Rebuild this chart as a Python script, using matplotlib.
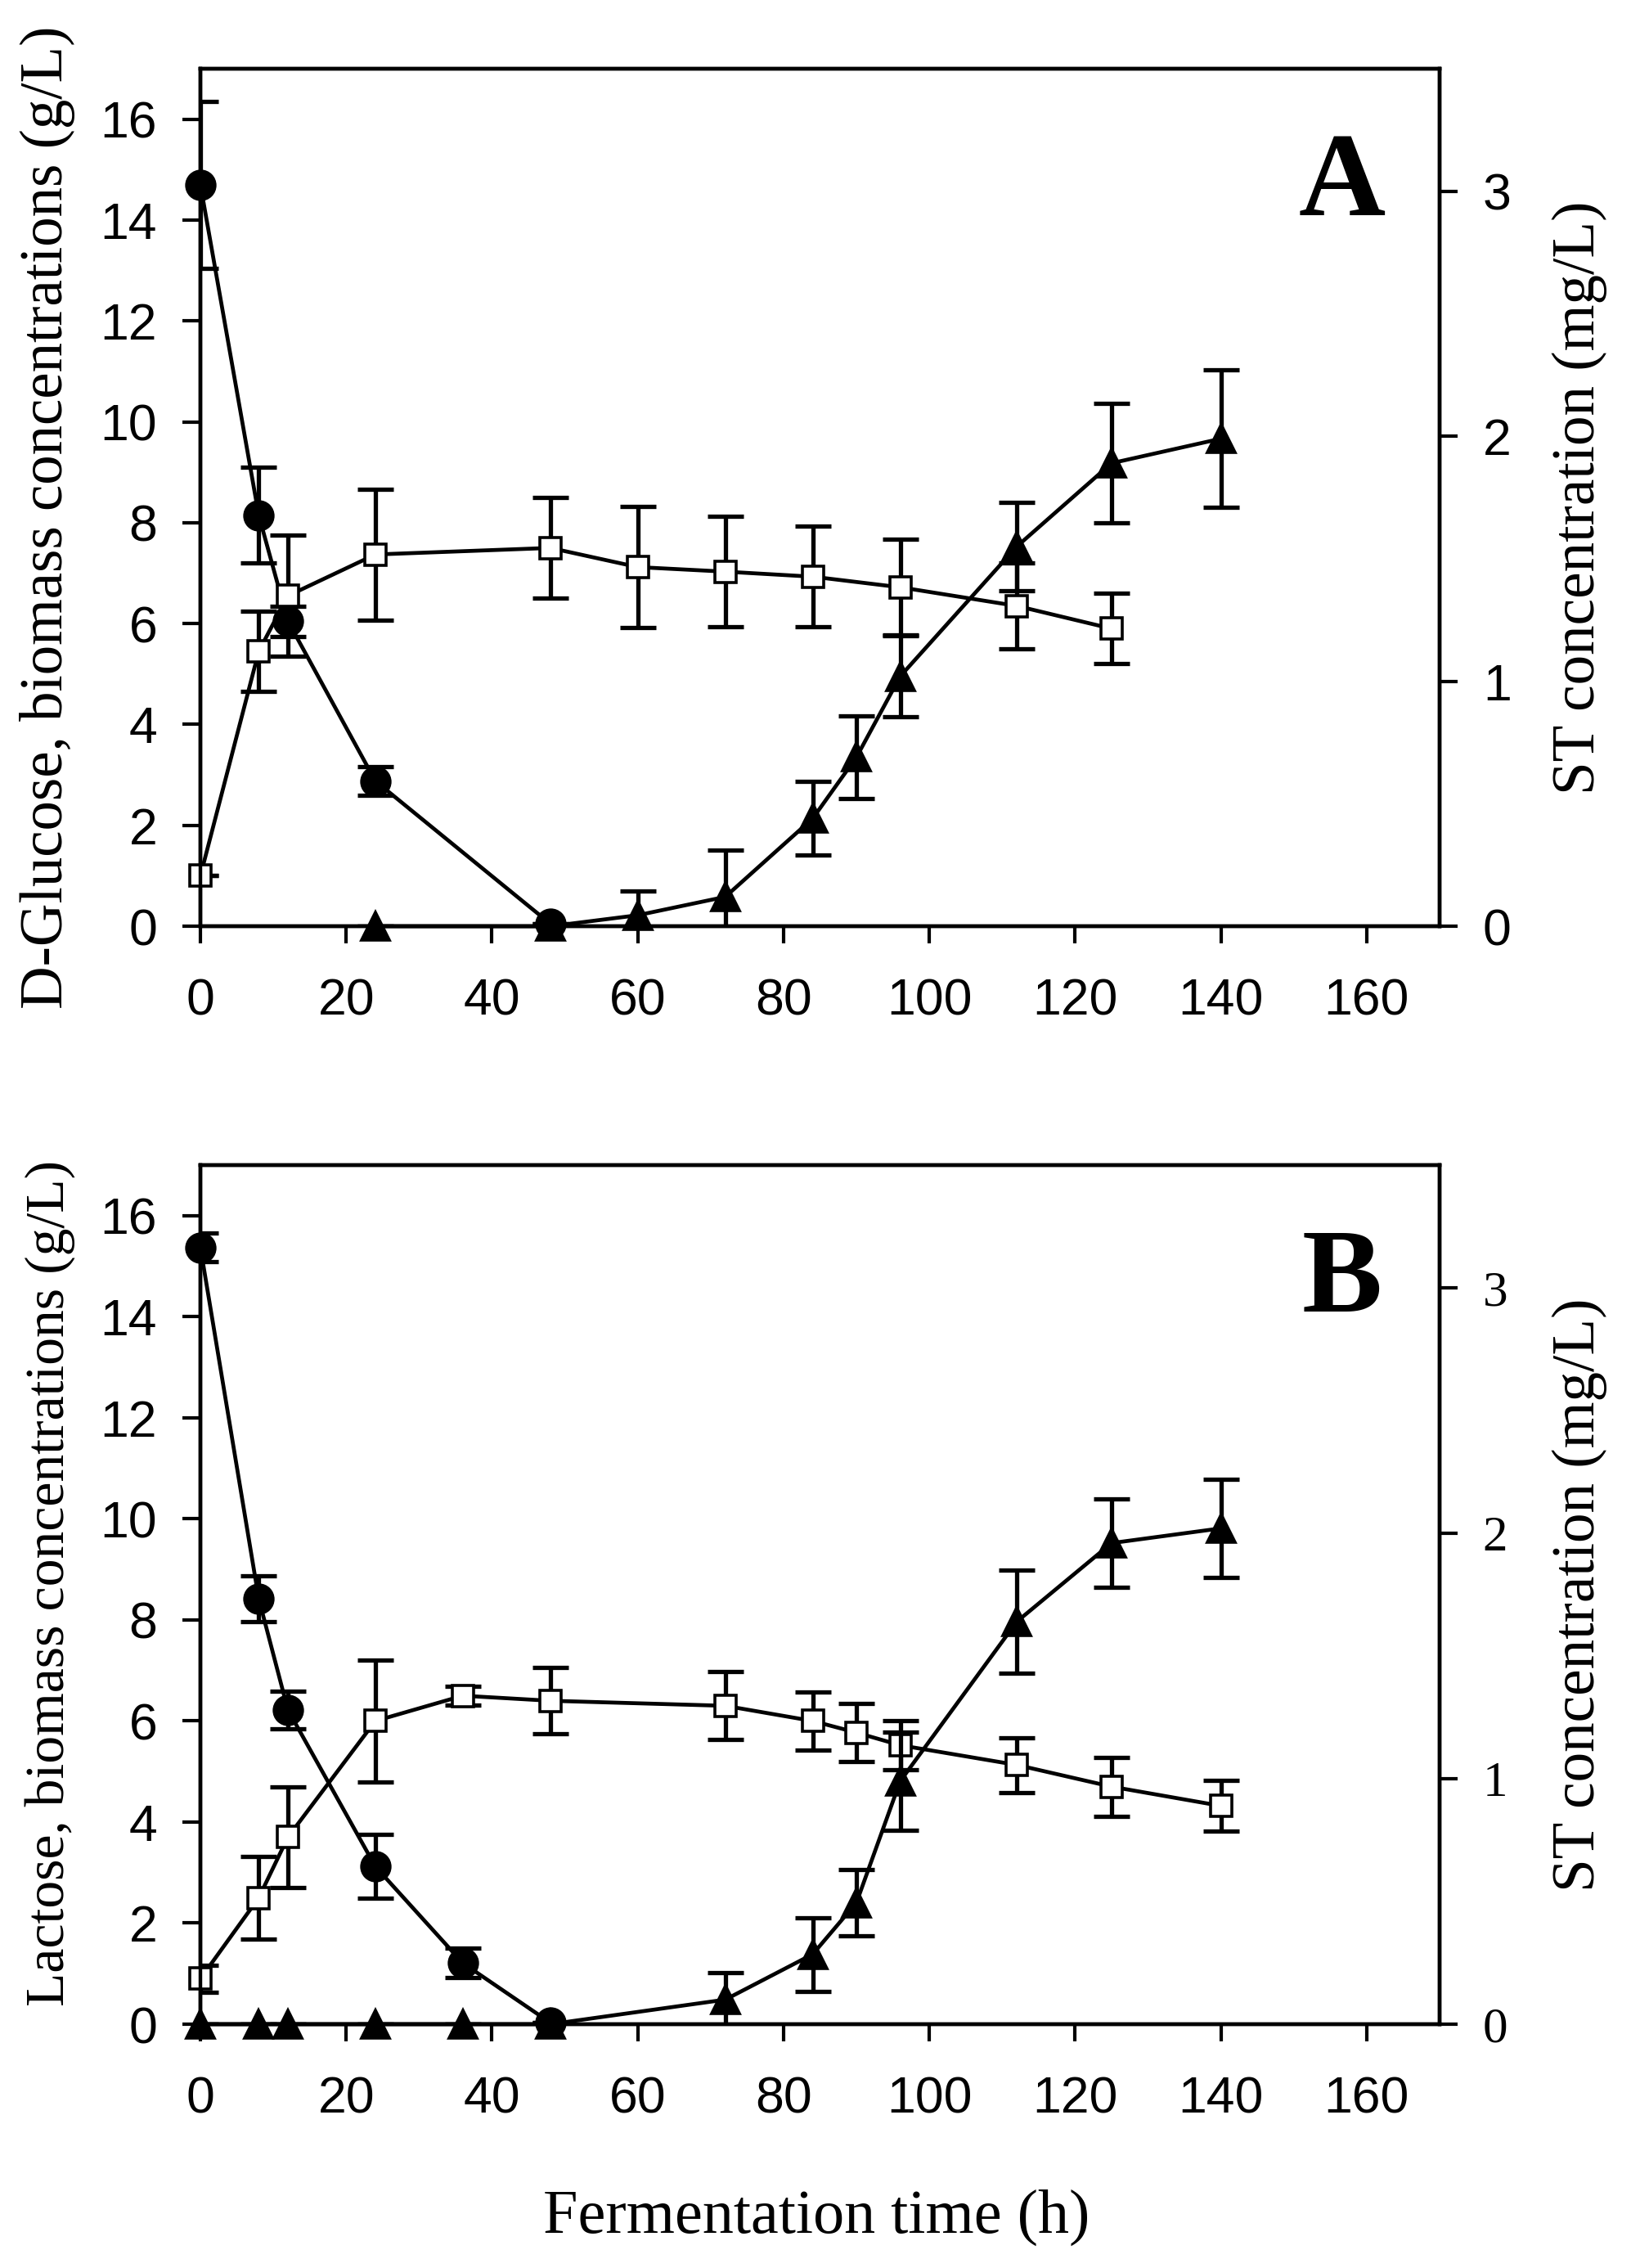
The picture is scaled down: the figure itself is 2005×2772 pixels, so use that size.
import matplotlib
matplotlib.use("Agg")
import matplotlib.pyplot as plt

SERIF = "Liberation Serif"
SANS = "Liberation Sans"

# ---- panel A : D-glucose medium ----
time_glc = [0, 8, 12, 24, 48]
glucose = [14.7, 8.15, 6.05, 2.88, 0.05]
glucose_err = [1.65, 0.95, 0.3, 0.28, 0.0]

time_bio_a = [0, 8, 12, 24, 48, 60, 72, 84, 96, 112, 125]
biomass_a = [1.0, 5.45, 6.55, 7.37, 7.5, 7.12, 7.03, 6.93, 6.72, 6.35, 5.9]
biomass_a_err = [0.0, 0.8, 1.2, 1.3, 1.0, 1.2, 1.1, 1.0, 0.95, 0.85, 0.7]

time_st_a = [24, 48, 60, 72, 84, 90, 96, 112, 125, 140]
st_a = [0.0, 0.0, 0.045, 0.12, 0.44, 0.69, 1.02, 1.55, 1.89, 1.99]
st_a_err = [0.0, 0.0, 0.1, 0.19, 0.15, 0.17, 0.165, 0.18, 0.245, 0.28]

# ---- panel B : lactose medium ----
time_lac = [0, 8, 12, 24, 36, 48]
lactose = [15.37, 8.42, 6.22, 3.12, 1.21, 0.03]
lactose_err = [0.28, 0.45, 0.37, 0.63, 0.29, 0.0]

time_bio_b = [0, 8, 12, 24, 36, 48, 72, 84, 90, 96, 112, 125, 140]
biomass_b = [0.9, 2.5, 3.7, 6.0, 6.5, 6.4, 6.3, 6.0, 5.77, 5.52, 5.13, 4.7, 4.32]
biomass_b_err = [0.27, 0.82, 1.0, 1.2, 0.18, 0.66, 0.67, 0.58, 0.58, 0.48, 0.54, 0.58, 0.5]

time_st_b = [0, 8, 12, 24, 36, 48, 72, 84, 90, 96, 112, 125, 140]
st_b = [0, 0, 0, 0, 0, 0, 0.1, 0.285, 0.495, 0.99, 1.64, 1.96, 2.02]
st_b_err = [0, 0, 0, 0, 0, 0, 0.11, 0.15, 0.135, 0.2, 0.21, 0.18, 0.2]

x_ticks = [0, 20, 40, 60, 80, 100, 120, 140, 160]
left_ticks = [0, 2, 4, 6, 8, 10, 12, 14, 16]
right_ticks = [0, 1, 2, 3]

LW = 3.4
EW = 3.8
CAP = 16
TICK_FS = 45


def series(ax, t, y, err, marker, face, ms):
    # error bars under the markers, markers unclipped so the ones sitting on 0 show
    ax.errorbar(t, y, yerr=err, fmt="none", ecolor="black", elinewidth=EW,
                capsize=CAP, capthick=EW, zorder=2)
    ax.plot(t, y, color="black", lw=LW, marker=marker, ms=ms,
            markerfacecolor=face, markeredgecolor="black", markeredgewidth=2.6,
            clip_on=False, zorder=3)


def fit_length(txt, target_px, vertical=False):
    # scale a label so its length matches the reference, measured in pixels
    fig.canvas.draw()
    bb = txt.get_window_extent()
    length = bb.height if vertical else bb.width
    txt.set_fontsize(txt.get_fontsize() * target_px / length)


def panel(rect, t1, s1, e1, tb, b, eb, ts, st, es, ylabel, ylab_len, ylab_y,
          letter, right_font):
    ax = fig.add_axes(rect)
    ax2 = ax.twinx()

    series(ax, t1, s1, e1, "o", "black", 25)
    series(ax, tb, b, eb, "s", "white", 19)
    series(ax2, ts, st, es, "^", "black", 25)

    ax.set_xlim(0, 170)
    ax.set_ylim(0, 17)
    ax2.set_ylim(0, 3.5)
    ax.set_xticks(x_ticks)
    ax.set_yticks(left_ticks)
    ax2.set_yticks(right_ticks)

    for a in (ax, ax2):
        for sp in a.spines.values():
            sp.set_linewidth(3.2)
    ax.tick_params(axis="x", direction="out", length=15, width=3, pad=30,
                   labelsize=TICK_FS)
    ax.tick_params(axis="y", direction="out", length=16, width=3, pad=22,
                   labelsize=TICK_FS)
    ax2.tick_params(axis="y", direction="out", length=16, width=3, pad=22,
                    labelsize=TICK_FS if right_font == SANS else 44)
    for lab in ax.get_xticklabels() + ax.get_yticklabels():
        lab.set_fontfamily(SANS)
    for lab in ax2.get_yticklabels():
        lab.set_fontfamily(right_font)

    yl = ax.set_ylabel(ylabel, fontfamily=SERIF, fontsize=46)
    ax.yaxis.set_label_coords(-0.101, ylab_y)
    fit_length(yl, ylab_len, vertical=True)

    yr = ax2.set_ylabel("ST concentration (mg/L)", fontfamily=SERIF, fontsize=46)
    ax2.yaxis.set_label_coords(1.091, 0.5)
    fit_length(yr, 726, vertical=True)

    ax.text(0.921, 0.863, letter, transform=ax.transAxes, fontfamily=SERIF,
            fontweight="bold", fontsize=106, ha="center", va="center")
    return ax, ax2


fig = plt.figure(figsize=(20.05, 27.72), dpi=100)

panel([0.1222, 0.5916, 0.7556, 0.3781], time_glc, glucose, glucose_err,
      time_bio_a, biomass_a, biomass_a_err, time_st_a, st_a, st_a_err,
      "D-Glucose, biomass concentrations (g/L)", 1202, 0.477, "A", SANS)

panel([0.1222, 0.1075, 0.7556, 0.3788], time_lac, lactose, lactose_err,
      time_bio_b, biomass_b, biomass_b_err, time_st_b, st_b, st_b_err,
      "Lactose, biomass concentrations (g/L)", 1033, 0.513, "B", SERIF)

xl = fig.text(0.498, 1 - 2710 / 2772, "Fermentation time (h)", fontfamily=SERIF,
              fontsize=48, ha="center", va="center")
fit_length(xl, 667)

fig.savefig("out.png", dpi=100)
